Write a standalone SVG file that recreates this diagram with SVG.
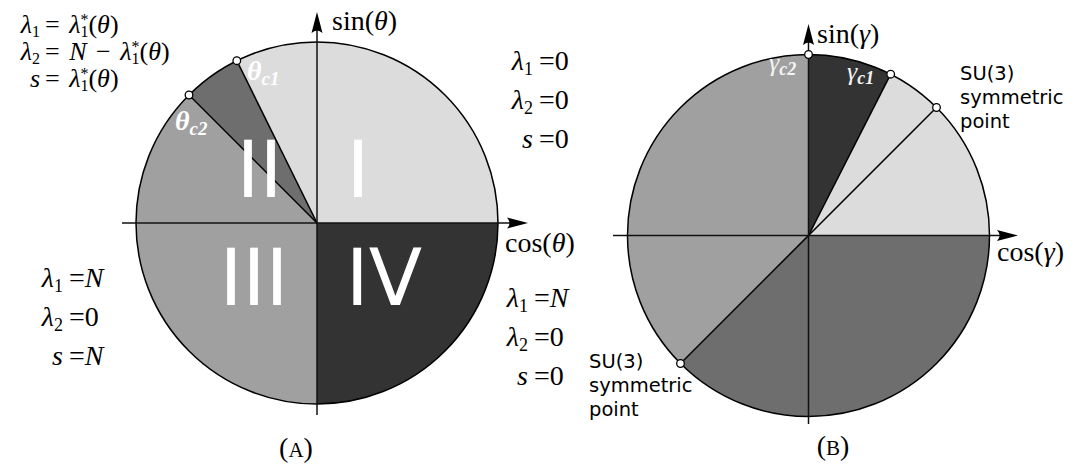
<svg xmlns="http://www.w3.org/2000/svg" width="1075" height="468" viewBox="0 0 1075 468">
<defs>
<marker id="arr" viewBox="0 -7 21 14" refX="12" refY="0" markerWidth="21" markerHeight="14" markerUnits="userSpaceOnUse" orient="auto">
<path d="M21,0 L0,-5.5 Q5,0 0,5.5 Z" fill="#000"/>
</marker>
</defs>
<style>
.m{font-family:"Liberation Serif","DejaVu Serif",serif;font-size:28px;fill:#000}
.mt{font-family:"Liberation Serif","DejaVu Serif",serif;font-size:26px;fill:#000}
.ax-l{font-family:"Liberation Serif","DejaVu Serif",serif;font-size:28px;fill:#000}
.i{font-style:italic}
.s{font-size:18px}
.st{font-size:16px}
.rn{font-family:"DejaVu Sans",sans-serif;font-size:78px;fill:#fff}
.lbl{font-family:"DejaVu Sans",sans-serif;font-size:19.5px;fill:#000}
.crit{font-family:"Liberation Serif","DejaVu Serif",serif;font-size:28px;font-style:italic;font-weight:bold;fill:#fff}
.gcrit{font-family:"Liberation Serif","DejaVu Serif",serif;font-size:26px;font-style:italic;fill:#f4f4f4}
.ax{stroke:#111;stroke-width:1.5;fill:none}
.edge{stroke:#000;stroke-width:1.5;fill:none}
.pt{fill:#fff;stroke:#000;stroke-width:1.3}
.c1{fill:#dcdcdc}.c2{fill:#6e6e6e}.c3{fill:#a0a0a0}.c4{fill:#333}
</style>

<!-- Panel A -->
<g id="panelA">
  <g id="regionI"><path class="c1" d="M317,223 L498,223 A181,181 0 0,0 236.8,60.7 Z"/></g>
  <g id="regionII"><path class="c2" d="M317,223 L236.8,60.7 A181,181 0 0,0 189,95 Z"/></g>
  <g id="regionIII"><path class="c3" d="M317,223 L189,95 A181,181 0 0,0 317,404 Z"/></g>
  <g id="regionIV"><path class="c4" d="M317,223 L317,404 A181,181 0 0,0 498,223 Z"/></g>
  <circle class="edge" cx="317" cy="223" r="181"/>
</g>

<!-- Panel B -->
<g id="panelB">
  <g id="sectorLight"><path class="c1" d="M808.5,235.5 L989.5,235.5 A181,181 0 0,0 890.7,74.2 Z"/></g>
  <g id="sectorDark"><path class="c4" d="M808.5,235.5 L890.7,74.2 A181,181 0 0,0 808.5,54.5 Z"/></g>
  <g id="sectorMid"><path class="c3" d="M808.5,235.5 L808.5,54.5 A181,181 0 0,0 680.5,363.5 Z"/></g>
  <g id="sectorDarkGray"><path class="c2" d="M808.5,235.5 L680.5,363.5 A181,181 0 0,0 989.5,235.5 Z"/></g>
  <circle class="edge" cx="808.5" cy="235.5" r="181"/>
</g>

<g id="connectors">
  <line class="edge" x1="317" y1="223" x2="236.8" y2="60.7"/>
  <line class="edge" x1="317" y1="223" x2="189" y2="95"/>
  <line class="ax" x1="122" y1="223" x2="519" y2="223" marker-end="url(#arr)"/>
  <line class="ax" x1="317" y1="415" x2="317" y2="21" marker-end="url(#arr)"/>
  <line class="edge" x1="808.5" y1="235.5" x2="890.7" y2="74.2"/>
  <line class="edge" x1="680.5" y1="363.5" x2="936.5" y2="107.5"/>
  <line class="ax" x1="613" y1="235.5" x2="1009" y2="235.5" marker-end="url(#arr)"/>
  <line class="ax" x1="808.5" y1="424" x2="808.5" y2="33" marker-end="url(#arr)"/>
</g>

<g id="points">
  <circle class="pt" cx="236.8" cy="60.7" r="3.8"/>
  <circle class="pt" cx="189" cy="95" r="3.8"/>
  <circle class="pt" cx="808.5" cy="54.5" r="3.8"/>
  <circle class="pt" cx="890.7" cy="74.2" r="3.8"/>
  <circle class="pt" cx="936.5" cy="107.5" r="3.8"/>
  <circle class="pt" cx="680.5" cy="363.5" r="3.8"/>
</g>

<!-- Roman numerals -->
<g id="numerals">
  <text class="rn" x="358" y="197" text-anchor="middle">I</text>
  <text class="rn" x="259.5" y="197" text-anchor="middle">II</text>
  <text class="rn" x="254" y="305" text-anchor="middle">III</text>
  <text class="rn" x="384" y="305" text-anchor="middle">IV</text>
</g>

<!-- critical angle labels -->
<text class="crit" x="247" y="80">θ<tspan font-size="19" dy="5">c1</tspan></text>
<text class="crit" x="175" y="130">θ<tspan font-size="19" dy="5">c2</tspan></text>
<text class="gcrit" x="769" y="71">γ<tspan font-size="18" font-weight="bold" dy="4">c2</tspan></text>
<text class="gcrit" x="847" y="80">γ<tspan font-size="18" font-weight="bold" dy="4">c1</tspan></text>

<!-- axis labels -->
<text class="ax-l" x="332" y="30">sin(<tspan class="i">θ</tspan>)</text>
<text class="ax-l" x="505" y="252">cos(<tspan class="i">θ</tspan>)</text>
<text class="ax-l" x="817" y="43">sin(<tspan class="i">γ</tspan>)</text>
<text class="ax-l" x="997" y="261">cos(<tspan class="i">γ</tspan>)</text>

<!-- top-left block -->
<g id="eqTL">
  <text class="mt" x="40" y="33" text-anchor="end"><tspan class="i">λ</tspan><tspan class="st" dy="4">1</tspan></text>
  <text class="mt" x="45" y="33">= <tspan class="i" dx="3">λ</tspan><tspan class="st" dy="-8">*</tspan><tspan class="st" dx="-8" dy="12">1</tspan><tspan dy="-4">(</tspan><tspan class="i">θ</tspan>)</text>
  <text class="mt" x="40" y="60" text-anchor="end"><tspan class="i">λ</tspan><tspan class="st" dy="4">2</tspan></text>
  <text class="mt" x="45" y="60">= <tspan class="i" dx="3">N</tspan> <tspan dx="3">−</tspan> <tspan class="i" dx="3">λ</tspan><tspan class="st" dy="-8">*</tspan><tspan class="st" dx="-8" dy="12">1</tspan><tspan dy="-4">(</tspan><tspan class="i">θ</tspan>)</text>
  <text class="mt i" x="40" y="87" text-anchor="end">s</text>
  <text class="mt" x="45" y="87">= <tspan class="i" dx="3">λ</tspan><tspan class="st" dy="-8">*</tspan><tspan class="st" dx="-8" dy="12">1</tspan><tspan dy="-4">(</tspan><tspan class="i">θ</tspan>)</text>
</g>

<!-- top-right block A -->
<g id="eqTR">
  <text class="m" x="533" y="70" text-anchor="end"><tspan class="i">λ</tspan><tspan class="s" dy="5">1</tspan></text>
  <text class="m" x="539" y="70">=0</text>
  <text class="m" x="533" y="109" text-anchor="end"><tspan class="i">λ</tspan><tspan class="s" dy="5">2</tspan></text>
  <text class="m" x="539" y="109">=0</text>
  <text class="m i" x="533" y="148" text-anchor="end">s</text>
  <text class="m" x="539" y="148">=0</text>
</g>

<!-- bottom-left block A -->
<g id="eqBL">
  <text class="m" x="63" y="287" text-anchor="end"><tspan class="i">λ</tspan><tspan class="s" dy="5">1</tspan></text>
  <text class="m" x="69" y="287">=<tspan class="i">N</tspan></text>
  <text class="m" x="63" y="326" text-anchor="end"><tspan class="i">λ</tspan><tspan class="s" dy="5">2</tspan></text>
  <text class="m" x="69" y="326">=0</text>
  <text class="m i" x="63" y="365" text-anchor="end">s</text>
  <text class="m" x="69" y="365">=<tspan class="i">N</tspan></text>
</g>

<!-- bottom-right block A -->
<g id="eqBR">
  <text class="m" x="528" y="307" text-anchor="end"><tspan class="i">λ</tspan><tspan class="s" dy="5">1</tspan></text>
  <text class="m" x="534" y="307">=<tspan class="i">N</tspan></text>
  <text class="m" x="528" y="346" text-anchor="end"><tspan class="i">λ</tspan><tspan class="s" dy="5">2</tspan></text>
  <text class="m" x="534" y="346">=0</text>
  <text class="m i" x="528" y="385" text-anchor="end">s</text>
  <text class="m" x="534" y="385">=0</text>
</g>

<!-- SU(3) labels -->
<g id="su3Top">
  <text class="lbl" x="960" y="80">SU(3)</text>
  <text class="lbl" x="960" y="104">symmetric</text>
  <text class="lbl" x="960" y="128">point</text>
</g>
<g id="su3Bottom">
  <text class="lbl" x="589" y="368">SU(3)</text>
  <text class="lbl" x="589" y="392">symmetric</text>
  <text class="lbl" x="589" y="416">point</text>
</g>

<!-- captions -->
<text class="m" x="296" y="457" text-anchor="middle">(<tspan font-size="21">A</tspan>)</text>
<text class="m" x="833" y="455" text-anchor="middle">(<tspan font-size="21">B</tspan>)</text>
</svg>
